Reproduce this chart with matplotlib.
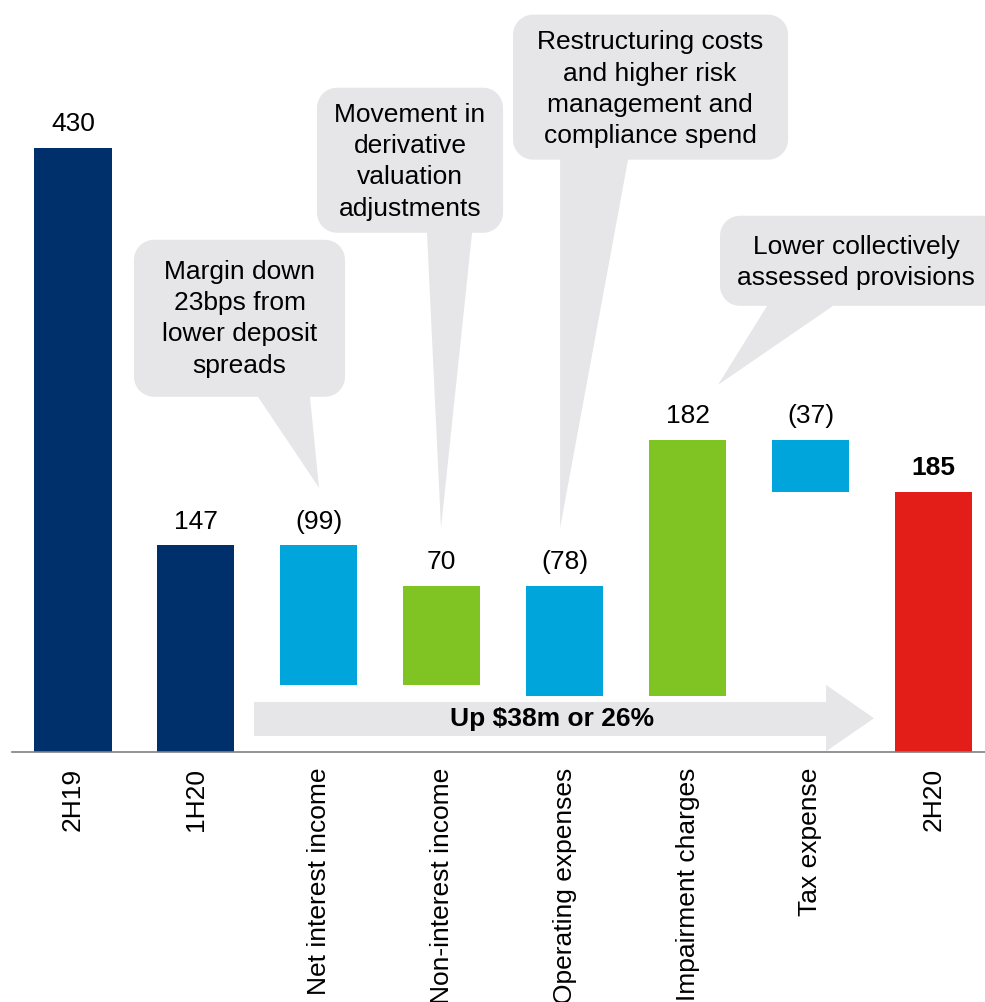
import numpy as np
import matplotlib
matplotlib.use("Agg")
import matplotlib.pyplot as plt
from matplotlib.patches import Polygon

plt.rcParams["font.family"] = ["Liberation Sans", "DejaVu Sans"]
plt.rcParams["font.size"] = 19

# --- data ---
categories = ["2H19", "1H20", "Net interest income", "Non-interest income",
              "Operating expenses", "Impairment charges", "Tax expense", "2H20"]
values = [430, 147, -99, 70, -78, 182, -37, 185]
is_total = [True, True, False, False, False, False, False, True]
bar_colors = ["#00306b", "#00306b", "#00a5dc", "#7fc423", "#00a5dc",
              "#7fc423", "#00a5dc", "#e31e18"]

callout_texts = [
    "Margin down\n23bps from\nlower deposit\nspreads",
    "Movement in\nderivative\nvaluation\nadjustments",
    "Restructuring costs\nand higher risk\nmanagement and\ncompliance spend",
    "Lower collectively\nassessed provisions",
]
arrow_text = "Up $38m or 26%"

BOX_GREY = "#e6e5e8"
PX_X = 122.9   # pixels per bar slot
PX_Y = 1.405   # pixels per $m


def waterfall(vals, totals):
    bottoms, heights, tops = [], [], []
    running = 0
    for v, tot in zip(vals, totals):
        if tot:
            running = v
            bottoms.append(0)
            heights.append(v)
        else:
            start = running
            running = running + v
            bottoms.append(min(start, running))
            heights.append(abs(v))
        tops.append(bottoms[-1] + heights[-1])
    return bottoms, heights, tops


def callout_poly(x0, x1, y0, y1, tail, r=20, n=10):
    """rounded box (data units) with a pointer tail on the bottom edge"""
    rx, ry = r / PX_X, r / PX_Y
    pts = []

    def arc(cx, cy, a0, a1):
        for a in np.linspace(np.radians(a0), np.radians(a1), n):
            pts.append((cx + rx * np.cos(a), cy + ry * np.sin(a)))

    arc(x0 + rx, y0 + ry, 180, 270)
    (bl, br), (tx, ty) = tail
    pts += [(bl, y0), (tx, ty), (br, y0)]
    arc(x1 - rx, y0 + ry, 270, 360)
    arc(x1 - rx, y1 - ry, 0, 90)
    arc(x0 + rx, y1 - ry, 90, 180)
    return pts


fig = plt.figure(figsize=(9.85, 10.02), dpi=100)
ax = fig.add_axes([0, 250 / 1002, 1, 752 / 1002])

x = np.arange(len(categories))
bottoms, heights, tops = waterfall(values, is_total)
ax.bar(x, heights, bottom=bottoms, width=0.627, color=bar_colors, zorder=2)

for xi, v, tot, top in zip(x, values, is_total, tops):
    lab = str(v) if (tot or v > 0) else f"({abs(v)})"
    bold = xi == len(categories) - 1
    ax.annotate(lab, (xi, top), xytext=(0, 12), textcoords="offset points",
                ha="center", va="baseline",
                fontweight="bold" if bold else "normal")

# big grey arrow
arrow_pts = [(1.472, 11.4), (6.127, 11.4), (6.127, 0.5), (6.517, 24.0),
             (6.127, 47.7), (6.127, 35.6), (1.472, 35.6)]
ax.add_patch(Polygon(arrow_pts, closed=True, facecolor=BOX_GREY,
                     edgecolor="none", zorder=1))
ax.text(3.897, 23.5, arrow_text, ha="center", va="center",
        fontweight="bold", zorder=3)

# callouts: box (x0, x1, y0, y1), tail ((base left, base right), tip), text pos
callouts = [
    ((0.496, 2.213, 252.7, 364.4), ((1.505, 1.928), (2.002, 187.9)), (1.355, 308.2)),
    ((1.985, 3.499, 369.4, 472.6), ((2.880, 3.247), (2.994, 159.4)), (2.742, 419.9)),
    ((3.580, 5.818, 421.4, 524.6), ((3.963, 4.516), (3.963, 159.4)), (4.695, 471.5)),
    ((5.264, 7.600, 317.4, 381.5), ((5.647, 6.184), (5.248, 261.2)), (6.371, 348.4)),
]
for txt, (box, tail, tpos) in zip(callout_texts, callouts):
    ax.add_patch(Polygon(callout_poly(*box, tail), closed=True,
                         facecolor=BOX_GREY, edgecolor="none", zorder=1))
    ax.text(tpos[0], tpos[1], txt, ha="center", va="center",
            multialignment="center", linespacing=1.39, zorder=3)

ax.set_xlim(-0.594, 7.42)
ax.set_ylim(0, 535)
ax.set_xticks(x)
ax.set_xticklabels(categories, rotation=90)
ax.tick_params(axis="x", length=0, pad=11.5)
ax.set_yticks([])
for s in ["top", "left", "right"]:
    ax.spines[s].set_visible(False)
ax.spines["bottom"].set_color("#808080")
ax.spines["bottom"].set_linewidth(1.2)
ax.spines["bottom"].set_bounds(-0.5, 7.42)
ax.patch.set_alpha(0)

fig.savefig("out.png", dpi=100)
